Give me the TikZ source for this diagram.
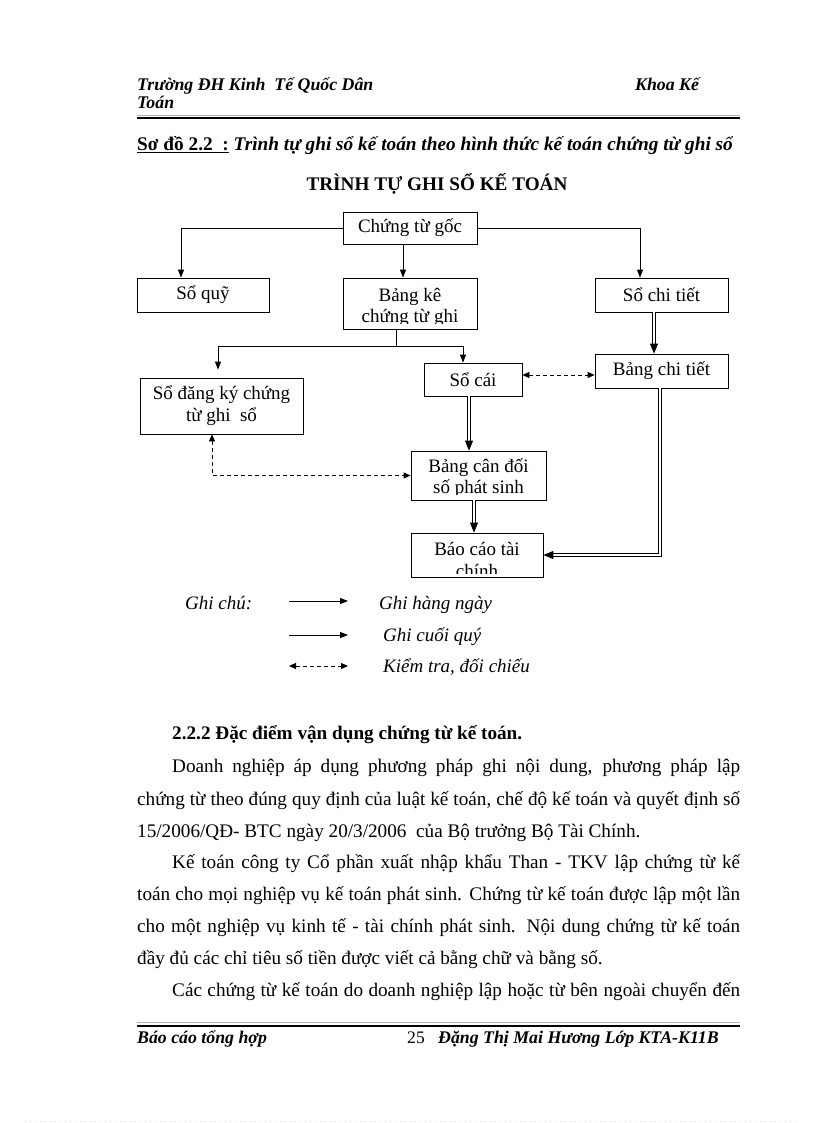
\documentclass[tikz,border=0pt]{standalone}
\usepackage{fontspec}
\setmainfont{Liberation Serif}
\usetikzlibrary{arrows.meta}

\newcommand{\boxfont}{\fontsize{19}{22}\selectfont}
\newcommand{\bodyfont}{\fontsize{19.2}{23}\selectfont}
\newcommand{\headfont}{\fontsize{17.8}{20}\selectfont\bfseries\itshape}
\newcommand{\notefont}{\fontsize{19}{22}\selectfont\itshape}

\tikzset{
  box/.style={draw, line width=0.8pt, inner sep=0pt, align=center, font=\boxfont},
  arr/.style={line width=0.8pt, -{Triangle[length=8pt,width=6pt]}},
  dbl/.style={double, line width=0.9pt, double distance=2.2pt, -{Triangle[length=10pt,width=8pt]}},
  chk/.style={line width=0.8pt, dash pattern=on 4pt off 3pt, {Triangle[length=7pt,width=6pt]}-{Triangle[length=7pt,width=6pt]}},
  txt/.style={anchor=base west, inner sep=0pt, font=\bodyfont},
}

\begin{document}
\begin{tikzpicture}[x=1pt, y=-1pt]
\useasboundingbox[fill=white] (0,0) rectangle (816,1123);

% header
\node[txt, font=\headfont] (hd1) at (137,91) {Trường ĐH Kinh\ \ Tế Quốc\ Dân};
\node[txt, font=\headfont] (hd2) at (635,91) {Khoa Kế};
\node[txt, font=\headfont] (hd3) at (137,109) {Toán};
\draw[gray!60, line width=0.5pt] (137,115) -- (740,115);
\draw[line width=2pt] (137,118.5) -- (740,118.5);

\node[txt, font=\fontsize{19.3}{22}\selectfont\bfseries] (cap) at (137,151)
  {\underline{Sơ đồ 2.2\ \ :} \textit{Trình tự ghi sổ kế toán theo hình thức kế toán chứng từ ghi sổ}};
\node[anchor=base, inner sep=0pt, font=\fontsize{19.2}{22}\selectfont\bfseries] (title) at (437,191) {TRÌNH TỰ GHI SỔ KẾ TOÁN};

% boxes
\node[box, minimum width=134pt, minimum height=32pt] (goc) at (410,228) {Chứng từ gốc};
\node[box, minimum width=132pt, minimum height=34pt] (soquy) at (203,295) {Sổ quỹ};
\node[box, minimum width=134pt, minimum height=51pt, path picture={
  \clip (path picture bounding box.north west) rectangle ([yshift=6pt]path picture bounding box.south east);
  \node[anchor=base, font=\boxfont] at ([yshift=2pt]path picture bounding box.center) {Bảng kê};
  \node[anchor=base, font=\boxfont] at ([yshift=-18.5pt]path picture bounding box.center) {chứng từ ghi};
}] (bangke) at (410,303.5) {};
\node[box, minimum width=133pt, minimum height=34pt] (sochitiet) at (661.5,295) {Sổ chi tiết};
\node[box, minimum width=163pt, minimum height=56pt] (sodangky) at (221.5,406) {Sổ đăng ký chứng\\từ ghi\ \ sổ};
\node[box, minimum width=98pt, minimum height=33pt] (socai) at (473,379.5) {Sổ cái};
\node[box, minimum width=133pt, minimum height=34pt] (bangchitiet) at (661.5,371) {Bảng chi tiết};
\node[box, minimum width=135pt, minimum height=49pt, path picture={
  \clip (path picture bounding box.north west) rectangle ([yshift=6pt]path picture bounding box.south east);
  \node[anchor=base, font=\boxfont] at ([yshift=3pt]path picture bounding box.center) {Bảng cân đối};
  \node[anchor=base, font=\boxfont] at ([yshift=-18pt]path picture bounding box.center) {số phát sinh};
}] (candoi) at (478.5,475.5) {};
\node[box, minimum width=132pt, minimum height=44pt, path picture={
  \clip (path picture bounding box.north west) rectangle ([yshift=4pt]path picture bounding box.south east);
  \node[anchor=base, font=\boxfont] at ([yshift=0pt]path picture bounding box.center) {Báo cáo tài};
  \node[anchor=base, font=\boxfont] at ([yshift=-22pt]path picture bounding box.center) {chính};
}] (baocao) at (477,555) {};

% connectors
\draw[arr] (goc.west) -| ([xshift=-22pt]soquy.north);
\draw[arr] ([xshift=-7pt]goc.south) -- ([xshift=-7pt]bangke.north);
\draw[arr] (goc.east) -| ([xshift=-21.5pt]sochitiet.north);
\draw[line width=0.8pt] ([xshift=-14pt]bangke.south) -- ++(0,17) coordinate (split);
\draw[arr] (split) -| ([xshift=-3.5pt,yshift=8pt]sodangky.north);
\draw[arr] (split) -| ([xshift=-10pt]socai.north);
\draw[dbl] ([xshift=-7.5pt]sochitiet.south) -- ([xshift=-7.5pt]bangchitiet.north);
\draw[chk] ([yshift=4.5pt]socai.east) -- ([yshift=-4pt]bangchitiet.west);
\draw[dbl] ([xshift=-4pt]socai.south) -- ([xshift=-4pt]socai.south |- candoi.north);
\draw[chk] ([xshift=-9.5pt]sodangky.south) |- (candoi.west);
\draw[dbl] ([xshift=-4.5pt]candoi.south) -- ([xshift=-4.5pt]candoi.south |- baocao.north);
\draw[dbl] ([xshift=-1.5pt]bangchitiet.south) |- (baocao.east);

% legend
\node[txt, font=\notefont] (ghichu) at (185,609) {Ghi chú:};
\coordinate (la) at (289,601); \coordinate (lb) at (348,601);
\coordinate (ma) at (289,635); \coordinate (mb) at (348,635);
\coordinate (na) at (289,666); \coordinate (nb) at (348,666);
\draw[arr] (la) -- (lb);
\draw[arr] (ma) -- (mb);
\draw[chk] (na) -- (nb);
\node[txt, font=\notefont] (hangngay) at (379,609) {Ghi hàng ngày};
\node[txt, font=\notefont] (cuoiquy) at (383,641) {Ghi cuối quý};
\node[txt, font=\notefont] (kiemtra) at (383,672) {Kiểm tra, đối chiếu};

% body text
\node[txt, font=\bodyfont\bfseries] (sec) at (172,739) {2.2.2 Đặc điểm vận dụng chứng từ kế toán.};
\node[txt] (l1) at (172,772) {\makebox[568pt][s]{Doanh nghiệp áp dụng phương pháp ghi nội dung, phương pháp lập}};
\node[txt] (l2) at (137,805) {\makebox[603pt][s]{chứng từ theo đúng quy định của luật kế toán, chế độ kế toán và quyết định số}};
\node[txt] (l3) at (137,837) {15/2006/QĐ- BTC ngày 20/3/2006\ \ của Bộ trưởng Bộ Tài Chính.};
\node[txt] (l4) at (172,868) {\makebox[568pt][s]{Kế toán công ty Cổ phần xuất nhập khẩu Than - TKV lập chứng từ kế}};
\node[txt] (l5) at (137,900) {\makebox[603pt][s]{toán cho mọi nghiệp vụ kế toán phát sinh. Chứng từ kế toán được lập một lần}};
\node[txt] (l6) at (137,932) {\makebox[603pt][s]{cho một nghiệp vụ kinh tế - tài chính phát sinh. Nội dung chứng từ kế toán}};
\node[txt] (l7) at (137,964) {đầy đủ các chỉ tiêu số tiền được viết cả bằng chữ và bằng số.};
\node[txt] (l8) at (172,996) {\makebox[568pt][s]{Các chứng từ kế toán do doanh nghiệp lập hoặc từ bên ngoài chuyển đến}};

% footer
\draw[gray!60, line width=0.5pt] (137,1022) -- (740,1022);
\draw[line width=2pt] (137,1025.5) -- (740,1025.5);
\node[txt, font=\headfont] (ft1) at (137,1043) {Báo cáo tổng hợp};
\node[txt, font=\fontsize{17.6}{20}\selectfont] (ft2) at (407,1043) {25};
\node[txt, font=\headfont] (ft3) at (438,1043) {Đặng Thị Mai Hương Lớp KTA-K11B};
\draw[gray!30, line width=0.6pt, dash pattern=on 1pt off 4pt] (25,1121) -- (800,1121);
\end{tikzpicture}
\end{document}
